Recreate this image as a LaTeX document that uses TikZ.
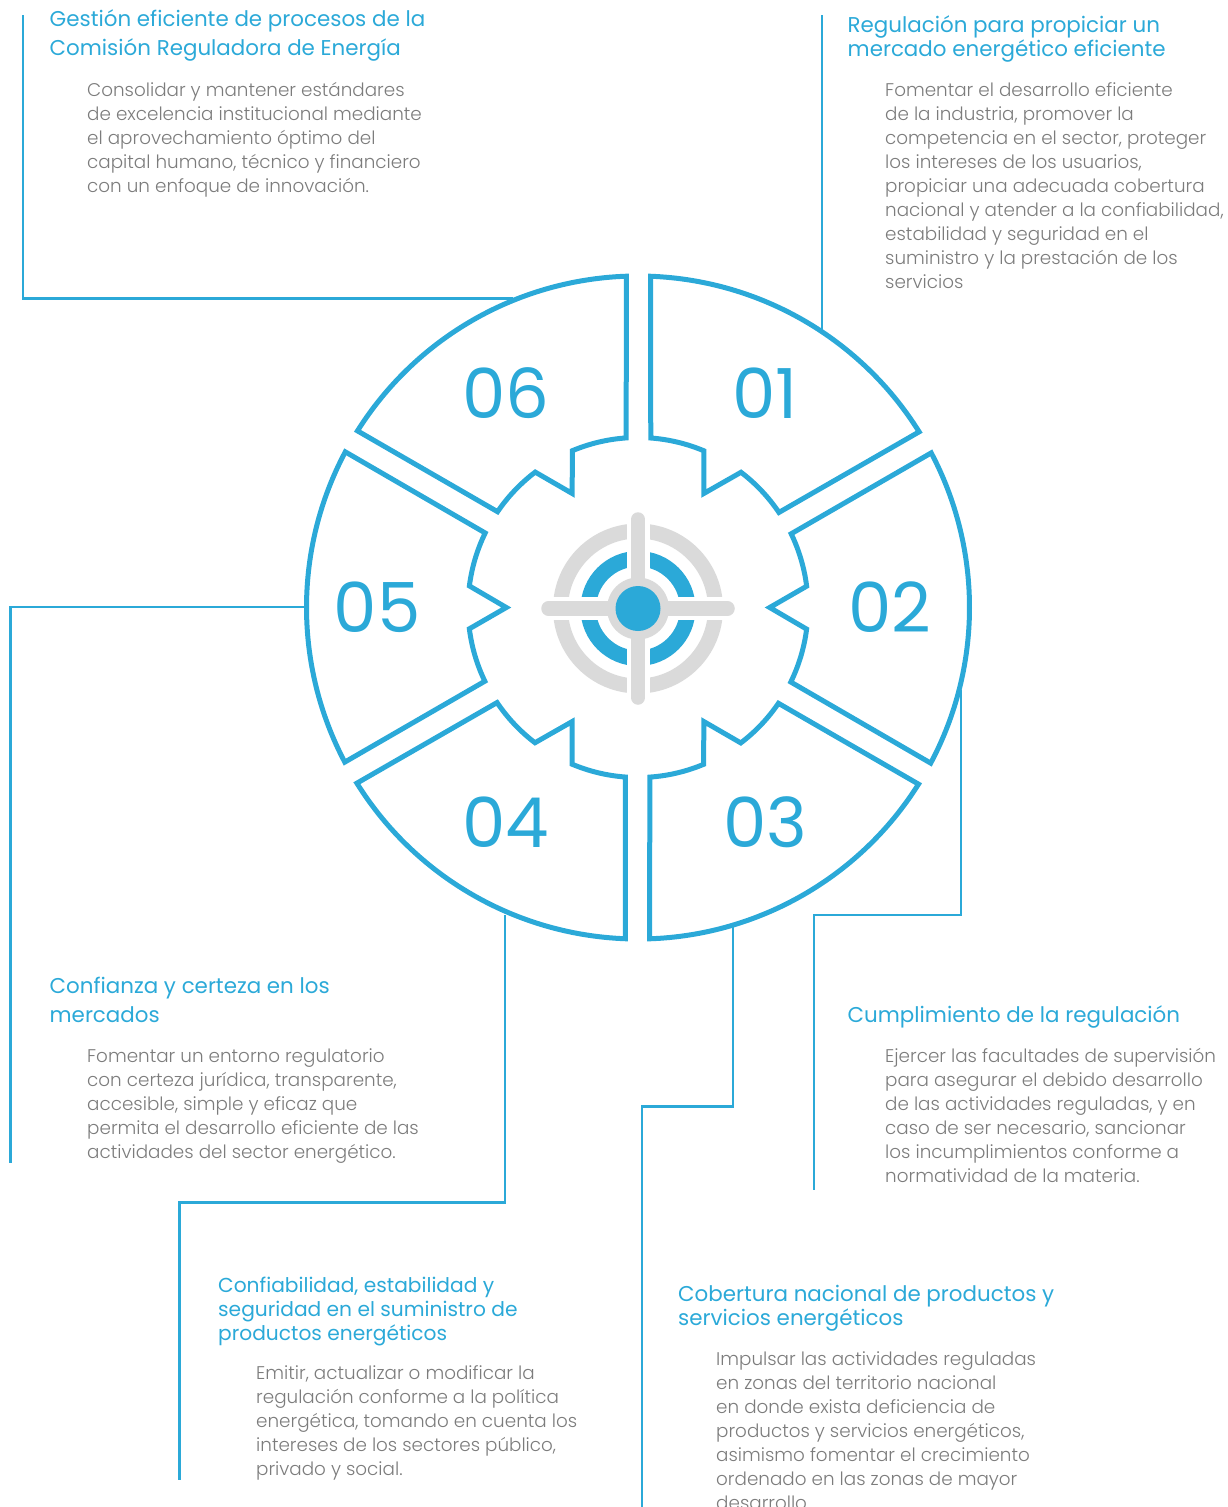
\documentclass[tikz,border=0pt]{standalone}
\usepackage{fontspec}
\setmainfont{Poppins}
\newfontfamily\blurbfont{Poppins Light}
\definecolor{creblue}{HTML}{2BA9D8}
\definecolor{cregray}{HTML}{DADADA}
\definecolor{cretext}{HTML}{7C7C7C}
\begin{document}
\begin{tikzpicture}[
  x = 1pt,
  y = -1pt,
  segment/.style = {
    draw = creblue,
    line width = 5pt,
    miter limit = 10,
  },
  link/.style = {
    draw = creblue,
    line width = 2.8pt,
  },
  number/.style = {
    text = creblue,
    inner sep = 0pt,
    font = \fontsize{69}{69}\selectfont,
  },
  heading/.style = {
    anchor = north west,
    align = left,
    inner sep = 0pt,
    text = creblue,
    font = \fontsize{21.4}{24}\selectfont,
  },
  heading wide/.style = {
    heading,
    font = \fontsize{21.4}{29.5}\selectfont,
  },
  heading small/.style = {
    heading,
    font = \fontsize{20.2}{24}\selectfont,
  },
  blurb/.style = {
    anchor = north west,
    align = left,
    inner sep = 0pt,
    text = cretext,
    font = \blurbfont\fontsize{18.35}{24}\selectfont,
  },
  ]
  \useasboundingbox (0,0) rectangle (1228,1507);

  \coordinate (hub) at (638,607.5);
  \coordinate (aim) at (638,608.5);

  \foreach \turn in {0,...,5} {
    \begin{scope}[shift={(hub)}, rotate=-60*\turn]
      \draw [segment]
      (87.8:331.5pt) arc [start angle=87.8, end angle=32, radius=331.5pt]
      -- (34:170pt) arc [start angle=34, end angle=52.7, radius=170pt]
      -- (60:131.7pt)
      -- (67.2:170pt) arc [start angle=67.2, end angle=85.7, radius=170pt]
      -- cycle;
    \end{scope}
  }

  \foreach \num/\numx/\numy in {
    01/765/393, 02/890/607, 03/765/822, 04/506/822, 05/377/607, 06/506/393
  } {
    \node [number] (num-\num) at (\numx,\numy) {\num};
  }

  \draw [cregray, line width=15pt] (aim) circle [radius=77.5pt];
  \draw [creblue, line width=15.5pt] (aim) circle [radius=49.75pt];
  \fill [white] ([shift={(-11.5pt,-100pt)}]aim) rectangle ([shift={(11.5pt,100pt)}]aim);
  \fill [white] ([shift={(-100pt,-11.5pt)}]aim) rectangle ([shift={(100pt,11.5pt)}]aim);
  \draw [cregray, line width=14.5pt, line cap=round]
  ([yshift=89pt]aim) -- ([yshift=-89pt]aim);
  \draw [cregray, line width=14.5pt, line cap=round]
  ([xshift=-89.5pt]aim) -- ([xshift=89.5pt]aim);
  \fill [cregray] (aim) circle [radius=31pt];
  \fill [creblue] (aim) circle [radius=22.5pt];

  \coordinate (tap-01) at (822,330);
  \coordinate (tap-02) at (961,690);
  \coordinate (tap-03) at (733,926);
  \coordinate (tap-04) at (505,915);
  \coordinate (tap-05) at (305,607);
  \coordinate (tap-06) at (513,298.5);
  \coordinate (end-01) at (822,15);
  \coordinate (end-02) at (814,1190);
  \coordinate (end-03) at (642,1507);
  \coordinate (end-04) at (179.5,1480);
  \coordinate (end-05) at (10.5,1163);
  \coordinate (end-06) at (23,15);

  \draw [link] (tap-01) -- (end-01);
  \draw [link] (tap-02) -- (961,915) -- (814,915) -- (end-02);
  \draw [link] (tap-03) -- (733,1106.5) -- (642,1106.5) -- (end-03);
  \draw [link] (tap-04) -- (505,1202.5) -- (179.5,1202.5) -- (end-04);
  \draw [link] (tap-05) -- (10.5,607) -- (end-05);
  \draw [link] (tap-06) -- (23,298.5) -- (end-06);

  \node [heading wide] (head-06) at (49.5,9)
  {Gestión eficiente de procesos de la\\Comisión Reguladora de Energía};
  \node [blurb] (text-06) at (87,82)
  {Consolidar y mantener estándares\\
    de excelencia institucional mediante\\
    el aprovechamiento óptimo del\\
    capital humano, técnico y financiero\\
    con un enfoque de innovación.};

  \node [heading] (head-01) at (847.5,15)
  {Regulación para propiciar un\\mercado energético eficiente};
  \node [blurb] (text-01) at (885,82)
  {Fomentar el desarrollo eficiente\\
    de la industria, promover la\\
    competencia en el sector, proteger\\
    los intereses de los usuarios,\\
    propiciar una adecuada cobertura\\
    nacional y atender a la confiabilidad,\\
    estabilidad y seguridad en el\\
    suministro y la prestación de los\\
    servicios};

  \node [heading wide] (head-05) at (49.5,976.5)
  {Confianza y certeza en los\\mercados};
  \node [blurb] (text-05) at (87,1048)
  {Fomentar un entorno regulatorio\\
    con certeza jurídica, transparente,\\
    accesible, simple y eficaz que\\
    permita el desarrollo eficiente de las\\
    actividades del sector energético.};

  \node [heading] (head-02) at (847.5,1005)
  {Cumplimiento de la regulación};
  \node [blurb] (text-02) at (885,1048)
  {Ejercer las facultades de supervisión\\
    para asegurar el debido desarrollo\\
    de las actividades reguladas, y en\\
    caso de ser necesario, sancionar\\
    los incumplimientos conforme a\\
    normatividad de la materia.};

  \node [heading small] (head-04) at (218,1276.5)
  {Confiabilidad, estabilidad y\\
    seguridad en el suministro de\\
    productos energéticos};
  \node [blurb] (text-04) at (256,1365)
  {Emitir, actualizar o modificar la\\
    regulación conforme a la política\\
    energética, tomando en cuenta los\\
    intereses de los sectores público,\\
    privado y social.};

  \node [heading] (head-03) at (678,1285)
  {Cobertura nacional de productos y\\servicios energéticos};
  \node [blurb] (text-03) at (716,1351)
  {Impulsar las actividades reguladas\\
    en zonas del territorio nacional\\
    en donde exista deficiencia de\\
    productos y servicios energéticos,\\
    asimismo fomentar el crecimiento\\
    ordenado en las zonas de mayor\\
    desarrollo};
\end{tikzpicture}
\end{document}
